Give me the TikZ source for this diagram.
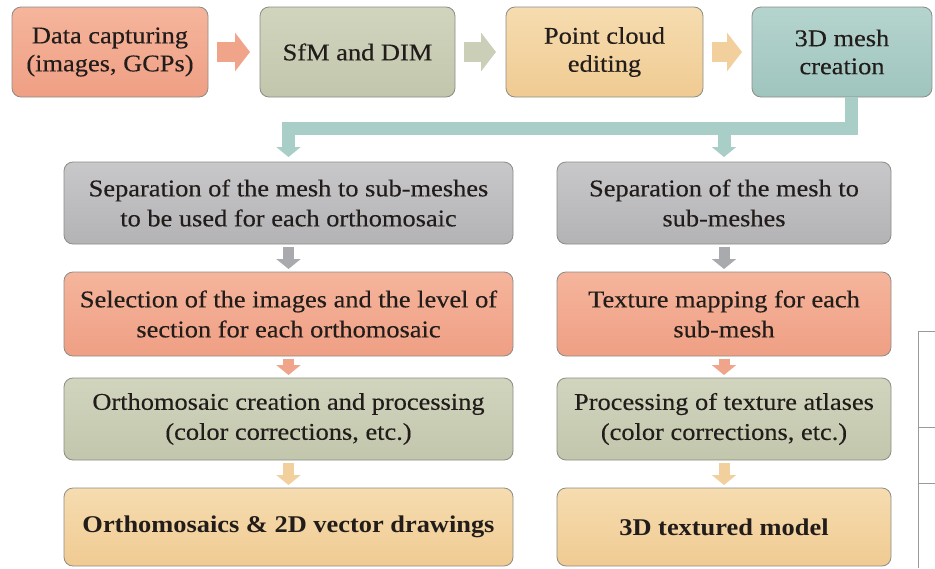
\documentclass[tikz,border=0pt]{standalone}
\usepackage{fontspec}
\setmainfont{Liberation Serif}[FakeStretch=1.1, UprightFeatures={FakeBold=0.3}]
\usetikzlibrary{arrows.meta,calc}
\definecolor{salmonT}{HTML}{F5B59C}
\definecolor{salmonB}{HTML}{EF9F84}
\definecolor{sageT}{HTML}{D2D5BE}
\definecolor{sageB}{HTML}{C2C6AC}
\definecolor{tanT}{HTML}{F6DCB0}
\definecolor{tanB}{HTML}{F0CB92}
\definecolor{tealT}{HTML}{B5D4CE}
\definecolor{tealB}{HTML}{9FC5BE}
\definecolor{grayT}{HTML}{C8C8CA}
\definecolor{grayB}{HTML}{B3B3B6}
\definecolor{boxline}{HTML}{8C8C86}
\definecolor{textc}{HTML}{221D1A}
\definecolor{tealarr}{HTML}{A9CEC7}
\definecolor{salarr}{HTML}{F0A58A}
\definecolor{sagearr}{HTML}{CBCFB8}
\definecolor{tanarr}{HTML}{F2D09E}
\definecolor{grayarr}{HTML}{A9AAAD}
\definecolor{tablec}{HTML}{9A9A9A}
\begin{document}
\begin{tikzpicture}[x=1pt,y=-1pt,
  box/.style={draw=boxline, line width=0.8pt, rounded corners=9pt, align=center,
    inner sep=0pt, outer sep=0pt, text=textc},
  topbox/.style={box, font=\fontsize{24}{28}\selectfont, minimum height=90pt},
  lowbox/.style={box, font=\fontsize{24}{30}\selectfont},
  fsalmon/.style={top color=salmonT, bottom color=salmonB},
  fsage/.style={top color=sageT, bottom color=sageB},
  ftan/.style={top color=tanT, bottom color=tanB},
  fteal/.style={top color=tealT, bottom color=tealB},
  fgray/.style={top color=grayT, bottom color=grayB},
  harrow/.style={line width=20pt, -{Triangle[width=38pt,length=15pt]}},
  varrow/.style={line width=11pt, -{Triangle[width=24pt,length=10pt]}},
  tealbar/.style={draw=tealarr, line width=13pt, line join=miter},
]
\useasboundingbox (0,0) rectangle (935,568);
\fill[white] (0,0) rectangle (935,568);

% top row
\node[topbox, fsalmon, minimum width=196pt] (b1) at (110,52) {Data capturing\\(images, GCPs)};
\node[topbox, fsage, minimum width=195pt] (b2) at (357.5,52) {SfM and DIM};
\node[topbox, ftan, minimum width=197pt] (b3) at (604.5,52) {Point cloud\\editing};
\node[topbox, fteal, minimum width=180pt] (b4) at (842,52) {3D mesh\\creation};

% left column
\node[lowbox, fgray, minimum width=449pt, minimum height=82pt] (la) at (288.5,203)
  {Separation of the mesh to sub-meshes\\to be used for each orthomosaic};
\node[lowbox, fsalmon, minimum width=449pt, minimum height=84pt] (lb) at (288.5,314)
  {Selection of the images and the level of\\section for each orthomosaic};
\node[lowbox, fsage, minimum width=449pt, minimum height=82pt] (lc) at (288.5,419)
  {Orthomosaic creation and processing\\(color corrections, etc.)};
\node[lowbox, ftan, minimum width=449pt, minimum height=78pt] (ld) at (288.5,527)
  {\textbf{Orthomosaics \& 2D vector drawings}};

% right column
\node[lowbox, fgray, minimum width=334pt, minimum height=82pt] (ra) at (724,203)
  {Separation of the mesh to\\sub-meshes};
\node[lowbox, fsalmon, minimum width=334pt, minimum height=84pt] (rb) at (724,314)
  {Texture mapping for each\\sub-mesh};
\node[lowbox, fsage, minimum width=334pt, minimum height=82pt] (rc) at (724,419)
  {Processing of texture atlases\\(color corrections, etc.)};
\node[lowbox, ftan, minimum width=334pt, minimum height=78pt] (rd) at (724,527)
  {\textbf{3D textured model}};

% top arrows
\draw[harrow, salarr] ($(b1.east)+(9,0)$) -- ($(b2.west)+(-10,0)$);
\draw[harrow, sagearr] ($(b2.east)+(9,0)$) -- ($(b3.west)+(-10,0)$);
\draw[harrow, tanarr] ($(b3.east)+(9,0)$) -- ($(b4.west)+(-10,0)$);

% teal connector
\coordinate (bend) at ($(b4.south)+(9,31.5)$);
\draw[tealbar] ($(b4.south)+(9,0)$) -- (bend) -| ($(la.north)+(0,-16)$);
\draw[varrow, tealarr, line width=13pt] ($(la.north)+(0,-22)$) -- ($(la.north)+(0,-5)$);
\draw[varrow, tealarr, line width=13pt] (bend -| ra.north) -- ($(ra.north)+(0,-5)$);

% column arrows
\draw[varrow, grayarr] ($(la.south)+(0,3)$) -- ($(lb.north)+(0,-3)$);
\draw[varrow, salarr] ($(lb.south)+(0,3)$) -- ($(lc.north)+(0,-3)$);
\draw[varrow, tanarr] ($(lc.south)+(0,3)$) -- ($(ld.north)+(0,-3)$);
\draw[varrow, grayarr] ($(ra.south)+(0,3)$) -- ($(rb.north)+(0,-3)$);
\draw[varrow, salarr] ($(rb.south)+(0,3)$) -- ($(rc.north)+(0,-3)$);
\draw[varrow, tanarr] ($(rc.south)+(0,3)$) -- ($(rd.north)+(0,-3)$);

% partial table lines at right edge
\draw[tablec, line width=0.9pt] (935,331) -- (918,331) -- (918,568);
\draw[tablec, line width=0.9pt] (918,427) -- (935,427);
\draw[tablec, line width=0.9pt] (918,483) -- (935,483);
\end{tikzpicture}
\end{document}
